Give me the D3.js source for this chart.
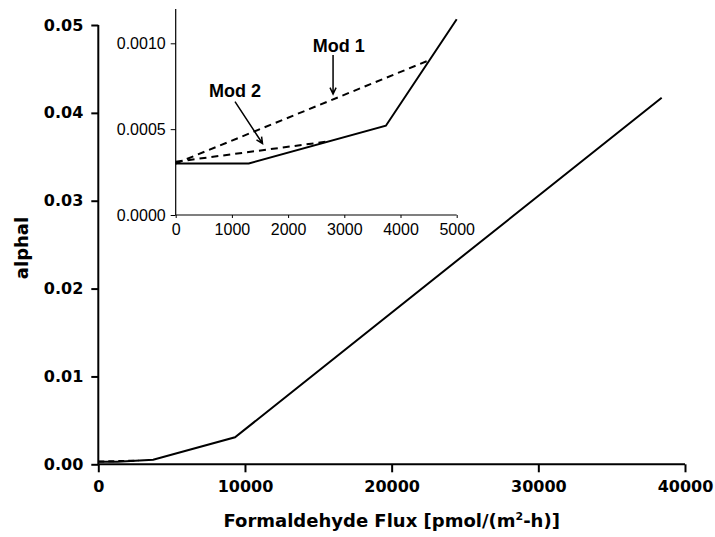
<!DOCTYPE html>
<html><head><meta charset="utf-8">
<script src="https://cdn.jsdelivr.net/npm/d3@7"></script>
<style>body{margin:0;background:#fff}svg{display:block}</style>
</head><body>
<svg id="c" width="715" height="537"></svg>
<script>
// main series
const mainX = [0, 1300, 3740, 9320, 38410];
const mainY = [0.0003, 0.0003, 0.00052, 0.00307, 0.04173];
// inset series
const insetX = [0, 1300, 3740, 5000];
const insetY = [0.0003, 0.0003, 0.00052, 0.00114];
const mod1X = [0, 4500];
const mod1Y = [0.0003, 0.0009];
const mod2X = [0, 2750];
const mod2Y = [0.00031, 0.00043];
// ticks
const mainXTicks = [0, 10000, 20000, 30000, 40000];
const mainYTicks = [0.00, 0.01, 0.02, 0.03, 0.04, 0.05];
const insetXTicks = [0, 1000, 2000, 3000, 4000, 5000];
const insetYTicks = [0.0000, 0.0005, 0.0010];

const svg = d3.select("#c");
const pts = (xs, ys) => xs.map((x, i) => [x, ys[i]]);

// ---------- main chart ----------
const x = d3.scaleLinear().domain([0, 40000]).range([98.3, 685]);
const y = d3.scaleLinear().domain([0, 0.05]).range([464.3, 25]);
const bold = "'DejaVu Sans', sans-serif";

const gx = svg.append("g").attr("transform", "translate(0,464.3)");
gx.call(d3.axisBottom(x).tickValues(d3.range(0, 40001, 2000)).tickSize(5).tickFormat(""));
gx.call(d3.axisBottom(x).tickValues(mainXTicks).tickSize(8).tickPadding(8).tickFormat(d3.format("d")));
gx.selectAll("path.domain").attr("d", `M${x(0)},0H${x(40000)}`);
const gy = svg.append("g").attr("transform", "translate(98.3,0)");
gy.call(d3.axisLeft(y).tickValues(d3.range(0, 0.05001, 0.002)).tickSize(4).tickFormat(""));
gy.call(d3.axisLeft(y).tickValues(mainYTicks).tickSize(7).tickPadding(8).tickFormat(d3.format(".2f")));
gy.selectAll("path.domain").attr("d", `M0,${y(0)}V${y(0.05)}`);
[gx, gy].forEach(g => {
  g.selectAll("path.domain").attr("stroke", "#000").attr("stroke-width", 2);
  g.selectAll(".tick line").attr("stroke", "#000").attr("stroke-width", 2);
  g.selectAll("text").attr("font-family", bold).attr("font-weight", "bold")
    .attr("font-size", 16).attr("fill", "#000");
});

const line = d3.line().x(d => x(d[0])).y(d => y(d[1]));
svg.append("path").attr("d", line(pts(mod2X, mod2Y))).attr("fill", "none")
  .attr("stroke", "#000").attr("stroke-width", 2).attr("stroke-dasharray", "6,4");
svg.append("path").attr("d", line(pts(mainX, mainY))).attr("fill", "none")
  .attr("stroke", "#000").attr("stroke-width", 2);

svg.append("text").attr("x", 391.7).attr("y", 527).attr("text-anchor", "middle")
  .attr("font-family", bold).attr("font-weight", "bold").attr("font-size", 18)
  .html('Formaldehyde Flux [pmol/(m<tspan dy="-7" font-size="11">2</tspan><tspan dy="7">-h)]</tspan>');
svg.append("text").attr("transform", "translate(28,248) rotate(-90)").attr("text-anchor", "middle")
  .attr("font-family", bold).attr("font-weight", "bold").attr("font-size", 18).text("alphal");

// ---------- inset ----------
const ix = d3.scaleLinear().domain([0, 5000]).range([175.7, 456.7]);
const iy = d3.scaleLinear().domain([0, 0.0012]).range([215, 8.96]);
const reg = "'Liberation Sans', Arial, sans-serif";
const igx = svg.append("g").attr("transform", "translate(0,215)");
igx.call(d3.axisBottom(ix).tickValues(d3.range(0, 5001, 250)).tickSize(3).tickFormat(""));
igx.call(d3.axisBottom(ix).tickValues(insetXTicks).tickSize(3).tickPadding(6).tickFormat(d3.format("d")));
igx.selectAll("path.domain").attr("d", `M${ix(0)},0H${ix(5000)}`);
const igy = svg.append("g").attr("transform", "translate(175.7,0)");
igy.call(d3.axisLeft(iy).tickValues(d3.range(0, 0.00121, 0.0001)).tickSize(3).tickFormat(""));
igy.call(d3.axisLeft(iy).tickValues(insetYTicks).tickSize(5).tickPadding(5).tickFormat(d3.format(".4f")));
igy.selectAll("path.domain").attr("d", `M0,${iy(0)}V${iy(0.0012)}`);
[igx, igy].forEach(g => {
  g.selectAll("path.domain").attr("stroke", "#000").attr("stroke-width", 1.2);
  g.selectAll(".tick line").attr("stroke", "#000").attr("stroke-width", 1);
  g.selectAll("text").attr("font-family", reg).attr("font-size", 16).attr("fill", "#000");
});

const iline = d3.line().x(d => ix(d[0])).y(d => iy(d[1]));
svg.append("path").attr("d", iline(pts(mod1X, mod1Y))).attr("fill", "none")
  .attr("stroke", "#000").attr("stroke-width", 2).attr("stroke-dasharray", "7,5");
svg.append("path").attr("d", iline(pts(mod2X, mod2Y))).attr("fill", "none")
  .attr("stroke", "#000").attr("stroke-width", 2).attr("stroke-dasharray", "7,5");
svg.append("path").attr("d", iline(pts(insetX, insetY))).attr("fill", "none")
  .attr("stroke", "#000").attr("stroke-width", 2);

// annotations
function arrow(x1, y1, x2, y2) {
  const a = Math.atan2(y2 - y1, x2 - x1), L = 7, w = 0.45;
  svg.append("path").attr("fill", "none").attr("stroke", "#000").attr("stroke-width", 1.5)
    .attr("d", `M${x1},${y1}L${x2},${y2}M${x2 - L * Math.cos(a - w)},${y2 - L * Math.sin(a - w)}L${x2},${y2}L${x2 - L * Math.cos(a + w)},${y2 - L * Math.sin(a + w)}`);
}
arrow(ix(2800), 55, ix(2800), 94);
arrow(235, 101.7, 262.5, 143.5);
svg.append("text").attr("x", 338.7).attr("y", 51.7).attr("text-anchor", "middle")
  .attr("font-family", reg).attr("font-weight", "bold").attr("font-size", 18).text("Mod 1");
svg.append("text").attr("x", 235).attr("y", 96.7).attr("text-anchor", "middle")
  .attr("font-family", reg).attr("font-weight", "bold").attr("font-size", 18).text("Mod 2");
</script>
</body></html>
